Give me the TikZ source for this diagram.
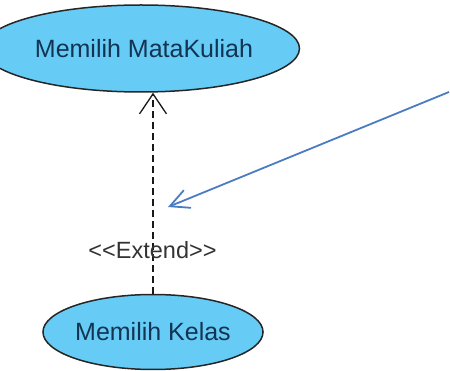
\documentclass[tikz,border=0pt]{standalone}
\usepackage{fontspec}
\setmainfont{Liberation Sans}
\usetikzlibrary{shapes.geometric,arrows.meta}
\definecolor{ucfill}{HTML}{66CCF5}
\definecolor{uctext}{HTML}{123452}
\definecolor{noteblue}{HTML}{4A7CC4}
\tikzset{
  usecase/.style={ellipse, draw=black!85, line width=1.5pt, fill=ucfill,
    inner sep=0pt, text=uctext, font=\fontsize{25}{28}\selectfont},
  extendline/.style={draw=black!90, line width=1.6pt, dash pattern=on 7pt off 4pt,
    -{Straight Barb[length=20pt,width=27pt,line width=1.3pt]}},
  stereo/.style={inner sep=1pt, text=black!80, font=\fontsize{23.5}{26}\selectfont},
  pointer/.style={draw=noteblue, line width=1.8pt,
    -{Straight Barb[length=19pt,width=19pt,line width=1.8pt]}}
}
\begin{document}
\begin{tikzpicture}[x=1pt,y=-1pt]
\useasboundingbox (0,0) rectangle (450,371);
\node[usecase, minimum width=258pt, minimum height=87pt] (t) at (141,48.5) {\hspace*{6pt}Memilih MataKuliah};
\node[usecase, minimum width=184pt, minimum height=75pt] (b) at (153,332) {Memilih Kelas};
\coordinate (top) at (b.north |- t.south);
\draw[extendline] (b.north) -- (top);
\node[stereo] (lab) at (152.5,250) {{<}{<}Extend{>}{>}};
\coordinate (ps) at (449,92);
\coordinate (pe) at (168,207);
\draw[pointer] (ps) -- (pe);
\end{tikzpicture}
\end{document}
